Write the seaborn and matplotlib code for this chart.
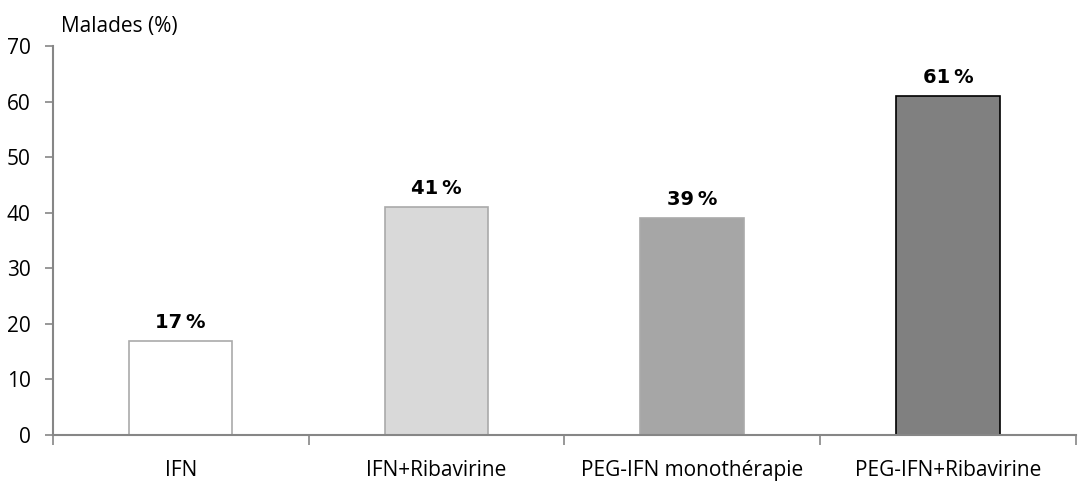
import matplotlib
matplotlib.use("Agg")
import matplotlib.pyplot as plt
import seaborn as sns
import pandas as pd
from matplotlib.ticker import FixedLocator

categories = ["IFN", "IFN+Ribavirine", "PEG-IFN monothérapie", "PEG-IFN+Ribavirine"]
values = [17, 41, 39, 61]
labels = ["17\u2009%", "41\u2009%", "39\u2009%", "61\u2009%"]

fills = ["#FFFFFF", "#D9D9D9", "#A6A6A6", "#808080"]
edges = ["#AAAAAA", "#AAAAAA", "#AAAAAA", "#000000"]

sns.set_theme(style="white")
plt.rcParams['font.family'] = ['Open Sans', 'DejaVu Sans']

df = pd.DataFrame({"cat": categories, "val": values})

fig = plt.figure(figsize=(10.78, 4.82), dpi=100)
ax = fig.add_axes([0.049, 0.0975, 0.949, 0.807])
sns.barplot(data=df, x="cat", y="val", hue="cat", palette=fills, legend=False,
            width=0.405, ax=ax, saturation=1)
for p, ec in zip(ax.patches, edges):
    p.set_edgecolor(ec)
    p.set_linewidth(1.2)

ax.set_xlim(-0.5, 3.5)
ax.set_ylim(0, 70)
ax.set_yticks(range(0, 71, 10))
ax.set_xlabel("")
ax.set_ylabel("")

for i, (v, t) in enumerate(zip(values, labels)):
    ax.text(i, v + 1.6, t, ha="center", va="bottom", fontsize=14, fontweight="bold",
            color="black", family=['DejaVu Sans'])

for s in ["top", "right"]:
    ax.spines[s].set_visible(False)
for s in ["left", "bottom"]:
    ax.spines[s].set_color("#868686")
    ax.spines[s].set_linewidth(1.5)

ax.xaxis.set_minor_locator(FixedLocator([-0.5, 0.5, 1.5, 2.5, 3.5]))
ax.tick_params(axis="x", which="major", length=0, pad=18, labelsize=15, colors="black")
ax.tick_params(axis="x", which="minor", length=7, width=1.2, color="#868686", direction="out", bottom=True)
ax.tick_params(axis="y", which="major", length=6, width=1.2, color="#868686", direction="out", left=True,
               labelsize=15, labelcolor="black", pad=10)

fig.text(0.057, 0.945, "Malades (%)", fontsize=15, ha="left", va="center", color="black")

fig.savefig("out.png", dpi=100)
